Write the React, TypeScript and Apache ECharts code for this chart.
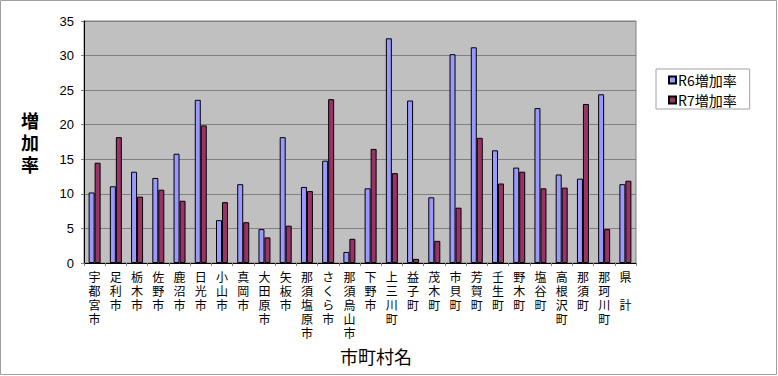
import React, { useEffect, useRef } from "react";
import * as echarts from "echarts";

const categories = [
  "宇都宮市", "足利市", "栃木市", "佐野市", "鹿沼市", "日光市", "小山市", "真岡市",
  "大田原市", "矢板市", "那須塩原市", "さくら市", "那須烏山市", "下野市", "上三川町",
  "益子町", "茂木町", "市貝町", "芳賀町", "壬生町", "野木町", "塩谷町", "高根沢町",
  "那須町", "那珂川町", "県　計",
];
const r6Values = [
  10.2, 11.1, 13.2, 12.3, 15.8, 23.6, 6.2, 11.4, 4.9, 18.2, 11.0, 14.8, 1.6, 10.8,
  32.5, 23.5, 9.5, 30.2, 31.2, 16.3, 13.8, 22.4, 12.8, 12.2, 24.4, 11.4,
];
const r7Values = [
  14.5, 18.2, 9.6, 10.6, 9.0, 19.9, 8.8, 5.9, 3.7, 5.4, 10.4, 23.7, 3.5, 16.5,
  13.0, 0.6, 3.2, 8.0, 18.1, 11.5, 13.2, 10.8, 10.9, 23.0, 4.9, 11.9,
];
const seriesNames = ["R6増加率", "R7増加率"];
const yAxisTitle = "増加率";
const xAxisTitle = "市町村名";

const JP = '"Noto Sans CJK JP", sans-serif';
const NUM = '"Liberation Sans", Arial, sans-serif';

export default function App() {
  const ref = useRef<HTMLDivElement>(null);
  useEffect(() => {
    if (!ref.current) return;
    const chart = echarts.init(ref.current, undefined, { renderer: "svg" });
    chart.setOption({
      animation: false,
      backgroundColor: "#ffffff",
      grid: { left: 84, top: 21, right: 142, bottom: 113, show: true, backgroundColor: "#c0c0c0", borderColor: "#808080", borderWidth: 1 },
      legend: {
        orient: "vertical",
        left: 656,
        top: 69,
        padding: [4, 13, 2, 12],
        itemWidth: 7,
        itemHeight: 7,
        itemGap: 6,
        icon: "rect",
        borderColor: "#a0a0a0",
        borderWidth: 1,
        textStyle: { fontFamily: JP, fontSize: 14, lineHeight: 14, color: "#000", padding: [0, 0, 0, -3] },
        data: seriesNames,
      },
      xAxis: {
        type: "category",
        data: categories,
        axisLine: { lineStyle: { color: "#000", width: 1 } },
        axisTick: { show: true, length: 3, lineStyle: { color: "#808080" } },
        axisLabel: {
          interval: 0,
          margin: 6,
          fontFamily: JP,
          fontSize: 12,
          lineHeight: 14,
          color: "#000",
          verticalAlign: "top",
          formatter: (v: string) => v.split("").join("\n"),
        },
      },
      yAxis: {
        type: "value",
        min: 0,
        max: 35,
        interval: 5,
        name: yAxisTitle.split("").join("\n"),
        nameLocation: "middle",
        nameRotate: 0,
        nameGap: 45,
        nameTextStyle: { fontFamily: JP, fontSize: 18, lineHeight: 22, color: "#000", fontWeight: "bold" },
        axisLine: { show: true, lineStyle: { color: "#000", width: 1 } },
        axisTick: { show: true, length: 3, lineStyle: { color: "#808080" } },
        axisLabel: { fontFamily: NUM, fontSize: 13, color: "#000", margin: 10 },
        splitLine: { lineStyle: { color: "#808080", width: 1 } },
      },
      series: [
        {
          name: seriesNames[0],
          type: "bar",
          data: r6Values,
          barWidth: 6,
          barGap: "0%",
          itemStyle: { color: "#9999ff", borderColor: "#000", borderWidth: 1 },
        },
        {
          name: seriesNames[1],
          type: "bar",
          data: r7Values,
          barWidth: 6,
          barGap: "0%",
          itemStyle: { color: "#993366", borderColor: "#000", borderWidth: 1 },
        },
      ],
      graphic: [
        {
          type: "rect",
          shape: { x: 0.5, y: 0.5, width: 776, height: 374 },
          style: { fill: "none", stroke: "#a0a0a0", lineWidth: 1 },
          silent: true,
        },
        {
          type: "text",
          x: 376,
          y: 356,
          style: { text: xAxisTitle, fontFamily: JP, fontSize: 18, fill: "#000", align: "center", verticalAlign: "middle" },
        },
      ],
    });
    return () => chart.dispose();
  }, []);
  return <div ref={ref} style={{ position: "absolute", left: 0, top: 0, width: 778, height: 376 }} />;
}
